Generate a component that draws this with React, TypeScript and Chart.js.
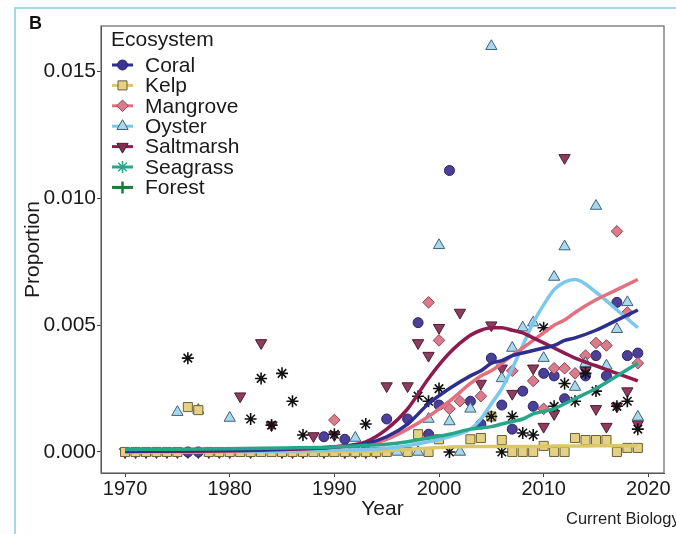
import React, { useEffect, useRef } from 'react';
import { Chart, registerables } from 'chart.js';

Chart.register(...registerables);

const FONT = '"Liberation Sans", Arial, Helvetica, sans-serif';

const ecosystems = ['Coral', 'Kelp', 'Mangrove', 'Oyster', 'Saltmarsh', 'Seagrass', 'Forest'];
const xTicks = [1970, 1980, 1990, 2000, 2010, 2020];
const yTicks = [0, 0.005, 0.01, 0.015];

// observed points: [year, proportion]
const coralPoints: [number, number][] = [
  [1976, 0], [1977, 0], [1989, 0.0006], [1991, 0.0005], [1995, 0.0013], [1997, 0.0013],
  [1998, 0.0051], [1999, 0.0007], [2000, 0.00185], [2001, 0.0111], [2003, 0.002], [2004, 0.0011],
  [2005, 0.0037], [2006, 0.00185], [2007, 0.0009], [2008, 0.0024], [2009, 0.0018], [2010, 0.0031],
  [2011, 0.003], [2012, 0.0021], [2014, 0.003], [2015, 0.0038], [2016, 0.003], [2017, 0.0059],
  [2018, 0.0038], [2019, 0.0039],
];
const kelpPoints: [number, number][] = [
  [1970, 0], [1971, 0], [1972, 0], [1973, 0], [1974, 0], [1975, 0], [1976, 0.00177], [1977, 0.00165],
  [1978, 0], [1979, 0], [1980, 0], [1981, 0], [1982, 0], [1983, 0], [1984, 0], [1985, 0], [1986, 0],
  [1987, 0], [1988, 0], [1989, 0], [1990, 0], [1991, 0], [1992, 0], [1993, 0], [1994, 0], [1995, 0],
  [1997, 0], [1998, 0.0007], [1999, 0], [2000, 0.0005], [2003, 0.0005], [2004, 0.00055],
  [2005, 0.0014], [2006, 0.00047], [2007, 0], [2008, 0], [2009, 0], [2010, 0.00024], [2011, 0],
  [2012, 0], [2013, 0.00055], [2014, 0.00047], [2015, 0.00047], [2016, 0.00047], [2017, 0],
  [2018, 0.00016], [2019, 0.00016],
];
const mangrovePoints: [number, number][] = [
  [1990, 0.00126], [1999, 0.0059], [2000, 0.0044], [2001, 0.0017], [2002, 0.002], [2004, 0.0022],
  [2007, 0.0032], [2009, 0.0028], [2010, 0.0017], [2011, 0.0033], [2012, 0.0033], [2013, 0.0031],
  [2014, 0.0038], [2015, 0.0043], [2016, 0.0042], [2017, 0.0087], [2018, 0.0055], [2019, 0.0035],
];
const oysterPoints: [number, number][] = [
  [1975, 0.00157], [1977, 0.00165], [1980, 0.00134], [1992, 0.00055], [1996, 0], [1998, 0],
  [1999, 0.0013], [2000, 0.00815], [2001, 0.0012], [2002, 0], [2003, 0.0017], [2005, 0.016],
  [2006, 0.0029], [2007, 0.0041], [2008, 0.0049], [2009, 0.0051], [2010, 0.0037], [2011, 0.0069],
  [2012, 0.0081], [2013, 0.00256], [2014, 0.0035], [2015, 0.0097], [2016, 0.0034], [2017, 0.00484],
  [2018, 0.0059], [2019, 0.00138],
];
const saltmarshPoints: [number, number][] = [
  [1970, 0], [1971, 0], [1972, 0], [1973, 0], [1974, 0], [1975, 0], [1976, 0], [1977, 0], [1978, 0],
  [1979, 0], [1980, 0], [1982, 0], [1985, 0], [1986, 0], [1987, 0], [1989, 0], [1991, 0], [1992, 0],
  [1993, 0], [1994, 0],
  [1981, 0.0022], [1983, 0.0043], [1984, 0.00106], [1988, 0.00063], [1990, 0.00067], [1995, 0.0026],
  [1997, 0.0026], [1998, 0.0043], [1999, 0.0038], [2000, 0.0049], [2002, 0.0055], [2004, 0.0027],
  [2005, 0.005], [2006, 0.0033], [2007, 0.0023], [2009, 0.0033], [2010, 0.001], [2011, 0.0015],
  [2012, 0.0116], [2014, 0.0032], [2015, 0.0017], [2016, 0.001], [2017, 0.0018], [2018, 0.0024],
  [2019, 0.0011],
];
const seagrassPoints: [number, number][] = [
  [1976, 0.0037], [1982, 0.0013], [1983, 0.0029], [1984, 0.00106], [1985, 0.0031], [1986, 0.002],
  [1987, 0.00067], [1990, 0.0007], [1993, 0.0011], [1998, 0.0022], [1999, 0.002], [2000, 0.0025],
  [2001, 0], [2005, 0.0014], [2006, 0], [2007, 0.0014], [2008, 0.00075], [2009, 0.00067],
  [2010, 0.0049], [2011, 0.0018], [2012, 0.0027], [2013, 0.002], [2014, 0.0031], [2015, 0.0024],
  [2017, 0.0018], [2018, 0.002], [2019, 0.0009],
];
const forestPoints: [number, number][] = [];

// fitted trend curves, read at these years
const lineYears = [1970, 1975, 1980, 1985, 1990, 1993, 1995, 1997, 1999, 2001, 2003, 2004, 2005, 2006, 2007, 2008, 2009, 2010, 2011, 2012, 2013, 2015, 2017, 2019];
const coralLine = [0.00003, 0.00005, 0.00008, 0.00012, 0.0002, 0.00033, 0.0006, 0.0011, 0.0019, 0.0025, 0.003, 0.0032, 0.0035, 0.0036, 0.0038, 0.0039, 0.004, 0.0041, 0.0042, 0.0044, 0.0045, 0.0048, 0.0052, 0.0056];
const kelpLine = [0, 0, 0.00001, 0.00001, 0.00002, 0.00003, 0.00005, 0.0001, 0.00015, 0.0002, 0.00022, 0.00022, 0.00022, 0.00022, 0.00022, 0.00022, 0.00022, 0.00022, 0.00023, 0.00023, 0.00023, 0.00024, 0.00024, 0.00025];
const mangroveLine = [0.00002, 0.00003, 0.00005, 0.0001, 0.0002, 0.0003, 0.0005, 0.0009, 0.0014, 0.002, 0.0027, 0.003, 0.0032, 0.0035, 0.0038, 0.0041, 0.0044, 0.0047, 0.005, 0.0052, 0.0055, 0.006, 0.0064, 0.0068];
const oysterLine = [0, 0.00001, 0.00002, 0.00004, 0.00007, 0.0001, 0.00015, 0.00025, 0.0004, 0.0006, 0.0009, 0.0013, 0.0019, 0.0025, 0.0033, 0.0042, 0.0051, 0.0058, 0.0064, 0.0067, 0.0068, 0.0063, 0.0056, 0.0049];
const saltmarshLine = [0.00002, 0.00003, 0.00005, 0.0001, 0.0002, 0.0004, 0.0009, 0.0017, 0.0029, 0.0039, 0.0046, 0.0048, 0.0049, 0.0049, 0.0048, 0.0047, 0.0045, 0.0043, 0.0041, 0.0039, 0.0037, 0.0034, 0.0031, 0.0028];
const seagrassLine = [0.0001, 0.00011, 0.00013, 0.00016, 0.0002, 0.00026, 0.0003, 0.0004, 0.00055, 0.0007, 0.0009, 0.00095, 0.001, 0.0011, 0.0012, 0.0013, 0.0015, 0.0016, 0.0017, 0.0019, 0.0021, 0.0025, 0.003, 0.0035];
const forestLine: number[] = []; // no forest trend visible in the figure

const allPoints = [coralPoints, kelpPoints, mangrovePoints, oysterPoints, saltmarshPoints, seagrassPoints, forestPoints];
const allLines = [coralLine, kelpLine, mangroveLine, oysterLine, saltmarshLine, seagrassLine, forestLine];

const lineColors = ['#2d2e8e', '#dcc76a', '#e4707f', '#7bc8ec', '#8e1b4d', '#27a68a', '#1f7a3a'];
const pointFill = ['#4b3f98', '#e4d184', '#dc7b8b', '#a9d8ec', '#8d3c5e', 'rgba(0,0,0,0)', '#1f7a3a'];
const pointStroke = ['#2b2466', '#6b6035', '#8b4654', '#3e6079', '#4e1c33', '#111111', '#1f7a3a'];
const pointShape = ['circle', 'rect', 'rectRot', 'triangle', 'triangle', 'star', 'cross'];
const pointRot = [0, 0, 0, 0, 180, 0, 0];
const pointSize = [5, 6.4, 5.8, 6.5, 6.5, 6, 6];
const pointOrder = [19, 16, 18, 17, 20, 15, 14];
const lineOrder = [3, 8, 5, 6, 4, 2, 30];
const legendMarkFill = ['#3a3590', '#e4d184', '#dc7b8b', '#a9d8ec', '#8d2850', '#27a68a', '#1f7a3a'];
const legendMarkStroke = ['#2b2466', '#6b6035', '#8b4654', '#3e6079', '#4e1c33', '#27a68a', '#1f7a3a'];

function drawMark(ctx: CanvasRenderingContext2D, shape: string, rot: number, x: number, y: number, r: number, fill: string, stroke: string) {
  ctx.save();
  ctx.fillStyle = fill;
  ctx.strokeStyle = stroke;
  ctx.lineWidth = 1;
  ctx.beginPath();
  if (shape === 'circle') {
    ctx.arc(x, y, r, 0, Math.PI * 2);
    ctx.fill(); ctx.stroke();
  } else if (shape === 'rect') {
    const s = r * Math.SQRT1_2;
    ctx.rect(x - s, y - s, 2 * s, 2 * s);
    ctx.fill(); ctx.stroke();
  } else if (shape === 'rectRot') {
    ctx.moveTo(x, y - r); ctx.lineTo(x + r, y); ctx.lineTo(x, y + r); ctx.lineTo(x - r, y); ctx.closePath();
    ctx.fill(); ctx.stroke();
  } else if (shape === 'triangle') {
    let a = (rot * Math.PI) / 180;
    for (let k = 0; k < 3; k++) {
      const px = x + Math.sin(a) * r, py = y - Math.cos(a) * r;
      if (k === 0) ctx.moveTo(px, py); else ctx.lineTo(px, py);
      a += (2 * Math.PI) / 3;
    }
    ctx.closePath();
    ctx.fill(); ctx.stroke();
  } else if (shape === 'star') {
    ctx.lineWidth = 1.6;
    for (let k = 0; k < 4; k++) {
      const a = (k * Math.PI) / 4;
      ctx.moveTo(x - Math.cos(a) * r, y - Math.sin(a) * r);
      ctx.lineTo(x + Math.cos(a) * r, y + Math.sin(a) * r);
    }
    ctx.stroke();
  } else if (shape === 'cross') {
    ctx.lineWidth = 2.5;
    ctx.moveTo(x - r, y); ctx.lineTo(x + r, y);
    ctx.moveTo(x, y - r); ctx.lineTo(x, y + r);
    ctx.stroke();
  }
  ctx.restore();
}

const decorPlugin = {
  id: 'decor',
  beforeDraw(chart: any) {
    const ctx = chart.ctx;
    ctx.save();
    ctx.fillStyle = '#ffffff';
    ctx.fillRect(0, 0, chart.width, chart.height);
    ctx.restore();
  },
  afterDraw(chart: any) {
    const ctx: CanvasRenderingContext2D = chart.ctx;
    const a = chart.chartArea;
    ctx.save();
    ctx.strokeStyle = '#666666';
    ctx.lineWidth = 1.2;
    ctx.strokeRect(a.left, a.top, a.right - a.left, a.bottom - a.top);

    ctx.strokeStyle = '#a6d6ee';
    ctx.lineWidth = 2;
    ctx.beginPath();
    ctx.moveTo(15, 540); ctx.lineTo(15, 8); ctx.lineTo(680, 8);
    ctx.stroke();

    ctx.fillStyle = '#111111';
    ctx.textBaseline = 'alphabetic';
    ctx.textAlign = 'left';
    ctx.font = 'bold 18px ' + FONT;
    ctx.fillText('B', 29, 29);
    ctx.font = '16.5px ' + FONT;
    ctx.fillStyle = '#222222';
    ctx.fillText('Current Biology', 566, 524);

    // legend
    ctx.font = '21px ' + FONT;
    ctx.fillStyle = '#1a1a1a';
    ctx.fillText('Ecosystem', 111, 46);
    ecosystems.forEach((name, i) => {
      const y = 65 + i * 20.4;
      ctx.save();
      ctx.strokeStyle = lineColors[i];
      ctx.lineWidth = 3;
      ctx.beginPath();
      ctx.moveTo(112, y); ctx.lineTo(133, y);
      ctx.stroke();
      ctx.restore();
      drawMark(ctx, pointShape[i], pointRot[i], 122.5, y, pointSize[i], legendMarkFill[i], legendMarkStroke[i]);
      ctx.fillStyle = '#1a1a1a';
      ctx.textBaseline = 'middle';
      ctx.font = '21px ' + FONT;
      ctx.fillText(name, 145, y + 1);
    });
    ctx.restore();
  },
};

export default function App() {
  const ref = useRef<HTMLCanvasElement | null>(null);
  useEffect(() => {
    if (!ref.current) return;
    Chart.defaults.font.family = FONT;
    const datasets: any[] = [];
    ecosystems.forEach((name, i) => {
      datasets.push({
        label: name + ' trend',
        data: allLines[i].map((v, k) => ({ x: lineYears[k], y: v })),
        showLine: true,
        borderColor: lineColors[i],
        borderWidth: 3.5,
        pointRadius: 0,
        cubicInterpolationMode: 'monotone',
        fill: false,
        order: lineOrder[i],
      });
      datasets.push({
        label: name,
        data: allPoints[i].map(([x, y]) => ({ x, y })),
        showLine: false,
        pointStyle: pointShape[i],
        rotation: pointRot[i],
        pointRadius: pointSize[i],
        backgroundColor: pointFill[i],
        borderColor: pointStroke[i],
        borderWidth: pointShape[i] === 'star' ? 1.6 : 1,
        order: pointOrder[i],
      });
    });
    const chart = new Chart(ref.current, {
      type: 'scatter',
      data: { datasets },
      plugins: [decorPlugin],
      options: {
        animation: false,
        responsive: false,
        events: [],
        layout: { padding: { left: 0, top: 26, right: 12, bottom: 0 } },
        plugins: { legend: { display: false }, tooltip: { enabled: false } },
        scales: {
          x: {
            type: 'linear',
            min: 1967.7,
            max: 2021.5,
            afterBuildTicks: (s: any) => { s.ticks = xTicks.map((v) => ({ value: v })); },
            afterFit: (s: any) => { s.height = 61; },
            ticks: { color: '#1a1a1a', font: { size: 20 }, padding: 0, callback: (v: any) => String(v) },
            grid: { drawOnChartArea: false, drawTicks: true, tickLength: 4, color: '#444' },
            border: { display: true, color: '#444' },
            title: { display: true, text: 'Year', color: '#1a1a1a', font: { size: 21 }, padding: { top: 0, bottom: 12 } },
          },
          y: {
            type: 'linear',
            min: -0.00083,
            max: 0.0168,
            afterBuildTicks: (s: any) => { s.ticks = yTicks.map((v) => ({ value: v })); },
            afterFit: (s: any) => { s.width = 101; },
            ticks: { color: '#1a1a1a', font: { size: 21 }, padding: 1, callback: (v: any) => Number(v).toFixed(3) },
            grid: { drawOnChartArea: false, drawTicks: true, tickLength: 4, color: '#444' },
            border: { display: true, color: '#444' },
            title: { display: true, text: 'Proportion', color: '#1a1a1a', font: { size: 21 }, padding: { top: 21, bottom: 0 } },
          },
        },
      } as any,
    });
    return () => chart.destroy();
  }, []);
  return (
    <div style={{ position: 'absolute', left: 0, top: 0, width: 676, height: 534, background: '#fff' }}>
      <canvas ref={ref} width={676} height={534} style={{ width: 676, height: 534, display: 'block' }} />
    </div>
  );
}
